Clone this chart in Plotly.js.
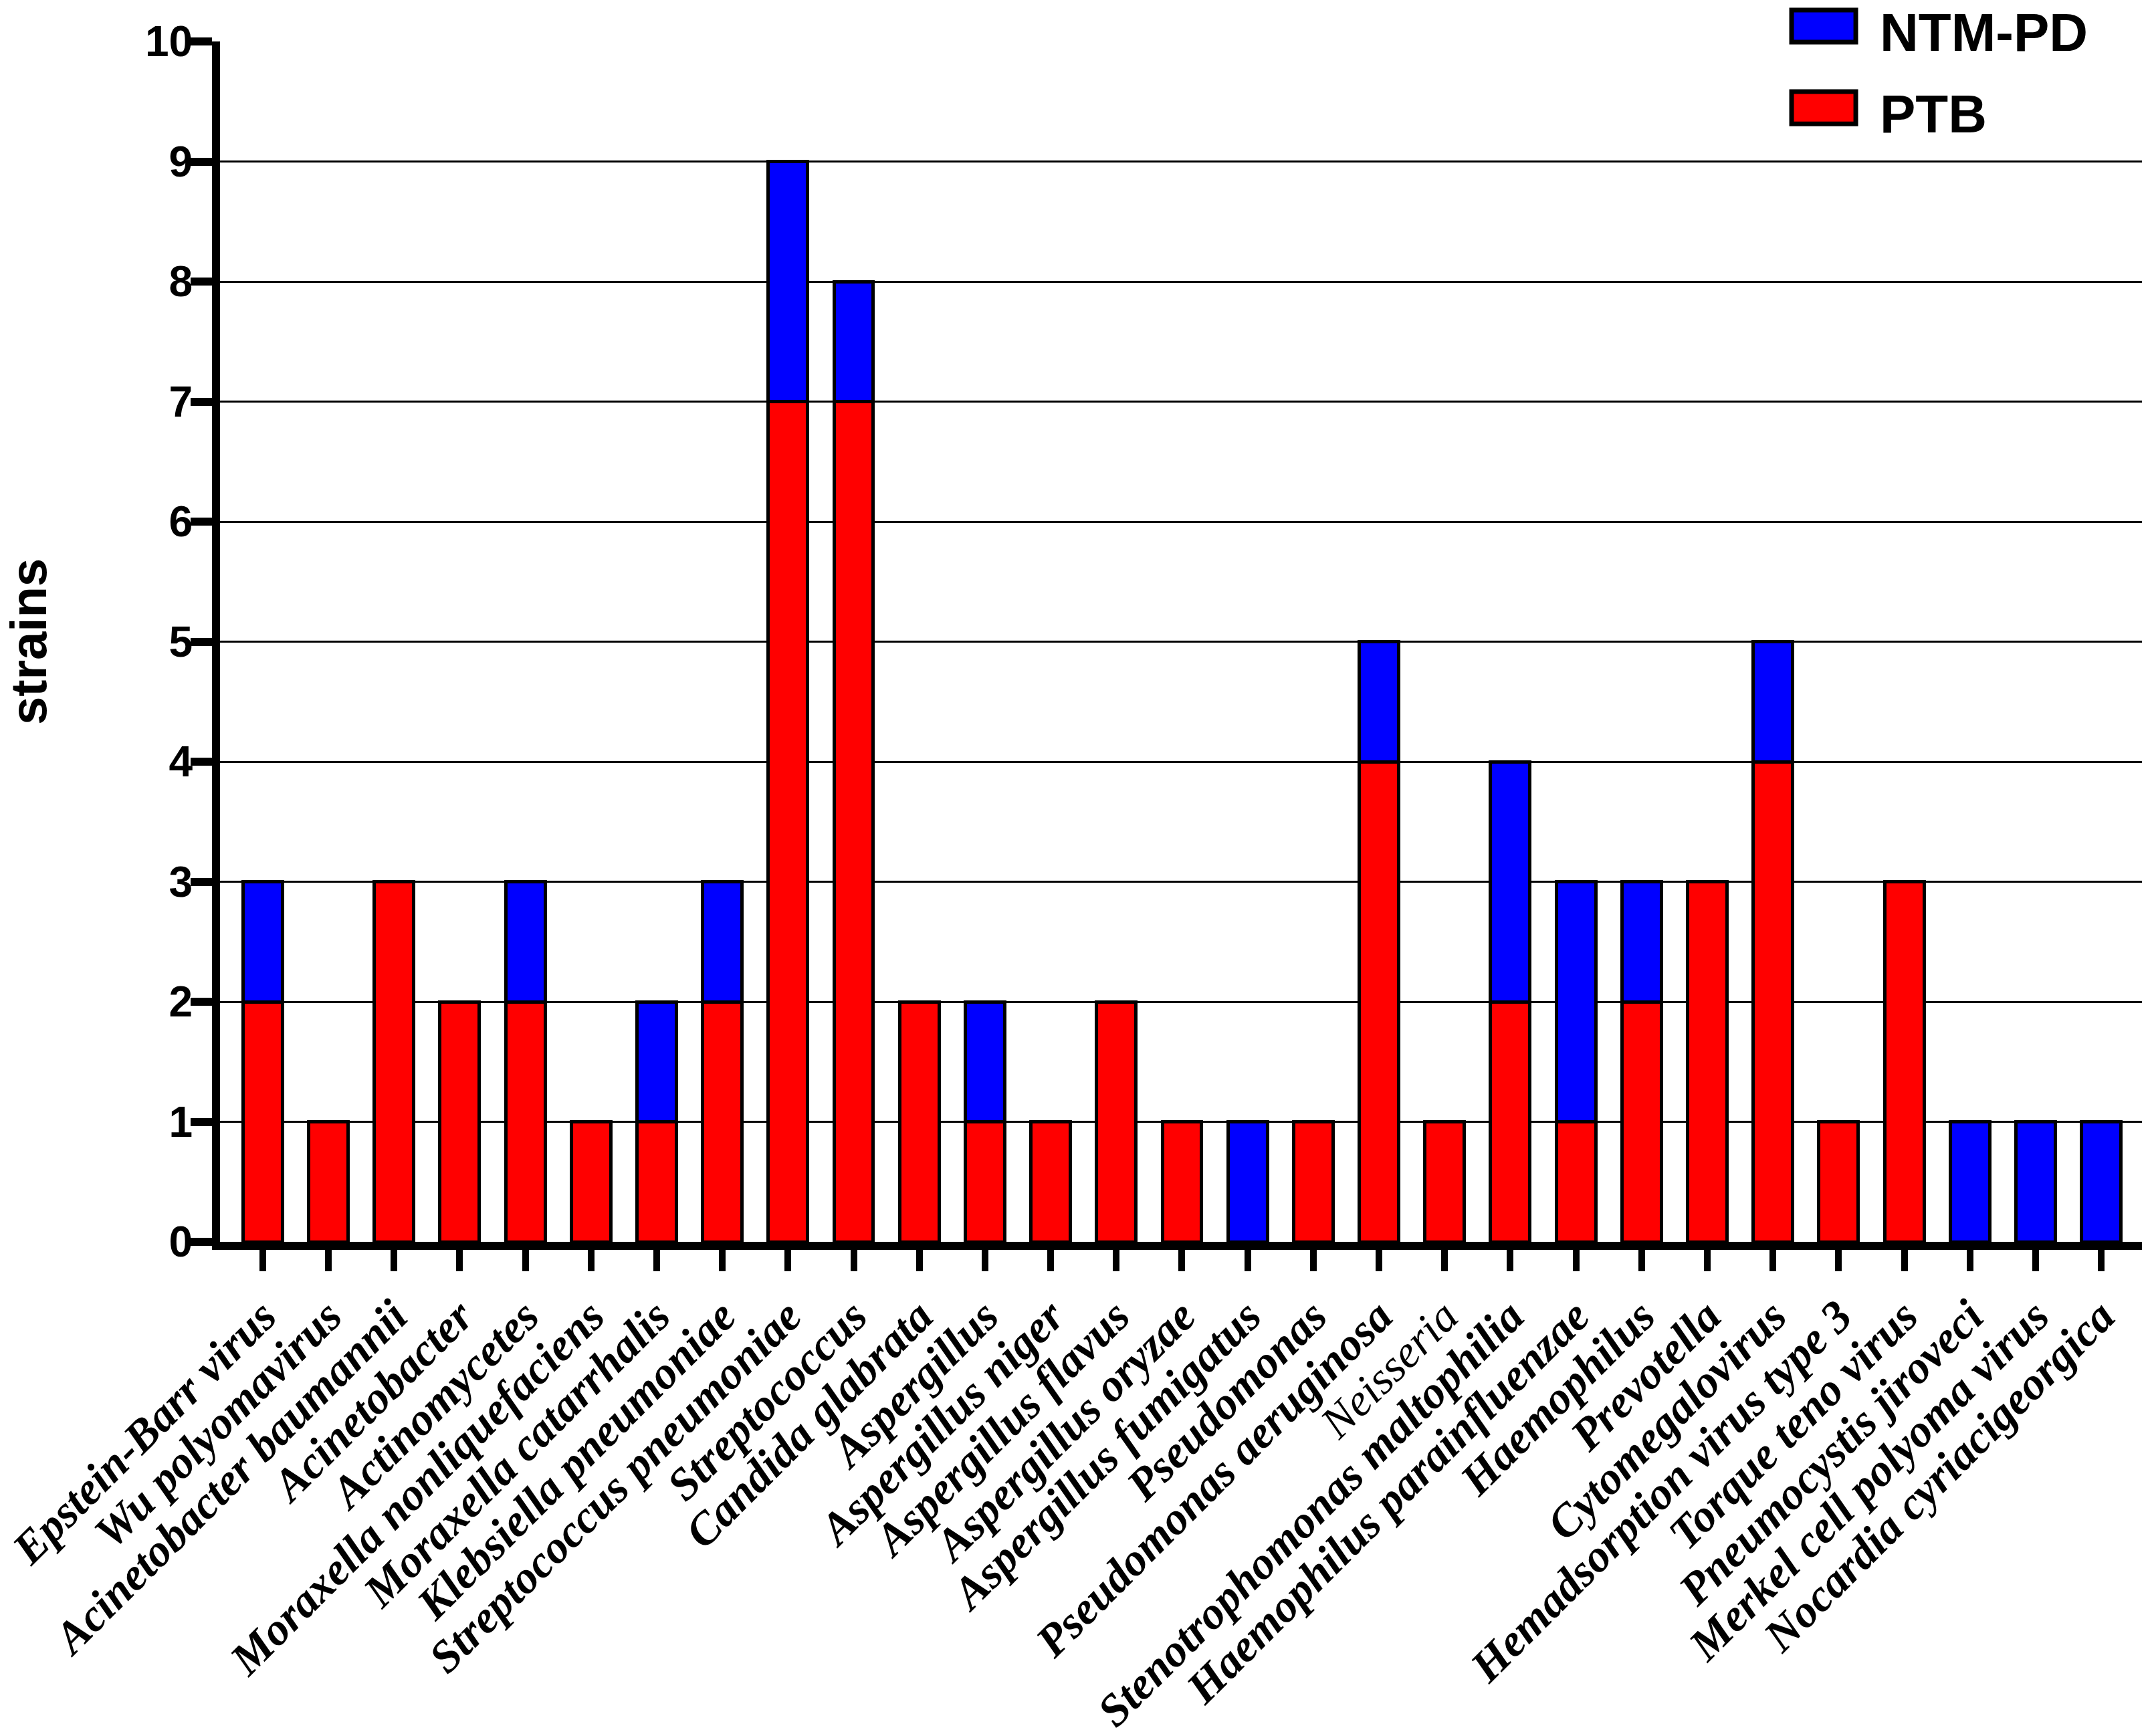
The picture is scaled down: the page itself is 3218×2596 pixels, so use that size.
<!DOCTYPE html>
<html>
<head>
<meta charset="utf-8">
<script src="https://cdn.plot.ly/plotly-3.0.1.min.js"></script>
<style>
  html, body {margin: 0; padding: 0; background: #fff;}
</style>
</head>
<body>
<div id="chart"></div>
<script>
/////Data/////
const CATEGORIES = [
  'Epstein-Barr virus', 'Wu polyomavirus', 'Acinetobacter baumannii',
  'Acinetobacter', 'Actinomycetes', 'Moraxella nonliquefaciens',
  'Moraxella catarrhalis', 'Klebsiella pneumoniae', 'Streptococcus pneumoniae',
  'Streptococcus', 'Candida glabrata', 'Aspergillus', 'Aspergillus niger',
  'Aspergillus flavus', 'Aspergillus oryzae', 'Aspergillus fumigatus',
  'Pseudomonas', 'Pseudomonas aeruginosa', 'Neisseria',
  'Stenotrophomonas maltophilia', 'Haemophilus parainfluenzae', 'Haemophilus',
  'Prevotella', 'Cytomegalovirus', 'Hemadsorption virus type 3',
  'Torque teno virus', 'Pneumocystis jiroveci', 'Merkel cell polyoma virus',
  'Nocardia cyriacigeorgica'
];
const PTB = [2, 1, 3, 2, 2, 1, 1, 2, 7, 7, 2, 1, 1, 2, 1, 0, 1, 4, 1, 2, 1, 2, 3, 4, 1, 3, 0, 0, 0];
const NTM_PD = [1, 0, 0, 0, 1, 0, 1, 1, 2, 1, 0, 1, 0, 0, 0, 1, 0, 1, 0, 2, 2, 1, 0, 1, 0, 0, 1, 1, 1];
// label drawn in regular weight in the source figure
const NOT_BOLD = ['Neisseria'];
const Y_TICKS = [0, 1, 2, 3, 4, 5, 6, 7, 8, 9, 10];
const GRID_TICKS = [1, 2, 3, 4, 5, 6, 7, 8, 9];
const LEGEND_NAMES = ['NTM-PD', 'PTB'];
const COLORS = {'NTM-PD': '#0000ff', 'PTB': '#ff0000'};

/////Plot/////
const SANS = '"Liberation Sans", Arial, sans-serif';
const SERIF = '"Liberation Serif", "Times New Roman", serif';

let tickText = CATEGORIES.map((c) => {
  return NOT_BOLD.includes(c) ? c : '<b>' + c + '</b>';
});

let traces = [
  {
    type: 'bar', name: 'PTB', x: CATEGORIES, y: PTB,
    marker: {color: COLORS['PTB'], line: {color: '#000', width: 5}},
  },
  {
    type: 'bar', name: 'NTM-PD', x: CATEGORIES, y: NTM_PD,
    marker: {color: COLORS['NTM-PD'], line: {color: '#000', width: 5}},
  },
];

// hand made legend (plotly's bar swatches are too small)
let shapes = [];
let annotations = [];
const legX0 = 0.8177, legX1 = 0.8511, legTextX = 0.863;
const legBoxY = [1.0128, 0.9448];
const legTextY = [1.0075, 0.9395];
const legH = 0.0134;
LEGEND_NAMES.forEach((name, i) => {
  shapes.push({
    type: 'rect', xref: 'paper', yref: 'paper',
    x0: legX0, x1: legX1, y0: legBoxY[i] - legH, y1: legBoxY[i] + legH,
    fillcolor: COLORS[name], line: {color: '#000', width: 7},
  });
  annotations.push({
    xref: 'paper', yref: 'paper', x: legTextX, y: legTextY[i],
    xanchor: 'left', yanchor: 'middle', showarrow: false, text: name,
    font: {family: SANS, size: 80, color: '#000', weight: 'bold'},
  });
});

const LAYOUT = {
  width: 3218,
  height: 2596,
  paper_bgcolor: '#fff',
  plot_bgcolor: '#fff',
  margin: {l: 329, r: 15, t: 62, b: 739},
  barmode: 'stack',
  bargap: 0.4,
  showlegend: false,
  xaxis: {
    type: 'category',
    range: [-0.65, 28.62],
    tickmode: 'array',
    tickvals: CATEGORIES,
    ticktext: tickText,
    tickangle: -45,
    tickfont: {family: SERIF, size: 68, color: '#000', style: 'italic'},
    ticks: 'outside', ticklen: 32, tickwidth: 10, tickcolor: '#000',
    showline: true, linecolor: '#000', linewidth: 12,
    showgrid: false, zeroline: false,
  },
  yaxis: {
    range: [0, 10],
    tickmode: 'array',
    tickvals: Y_TICKS,
    tickfont: {family: SANS, size: 64, color: '#000', weight: 'bold'},
    ticklabelstandoff: -16,
    ticks: 'outside', ticklen: 32, tickwidth: 12, tickcolor: '#000',
    showline: true, linecolor: '#000', linewidth: 12,
    showgrid: false, zeroline: false,
    title: {
      text: 'strains', standoff: 178,
      font: {family: SANS, size: 76, color: '#000', weight: 'bold'},
    },
  },
  // second axis only for the grid, so no line sits on top at 10
  yaxis2: {
    overlaying: 'y', range: [0, 10],
    tickmode: 'array', tickvals: GRID_TICKS,
    showticklabels: false, ticks: '',
    showgrid: true, gridcolor: '#000', gridwidth: 3,
    zeroline: false, showline: false,
  },
  shapes: shapes,
  annotations: annotations,
};

// invisible trace so that yaxis2 exists
traces.push({
  type: 'scatter', x: [CATEGORIES[0]], y: [0], yaxis: 'y2',
  mode: 'markers', marker: {opacity: 0}, hoverinfo: 'skip', showlegend: false,
});

Plotly.newPlot('chart', traces, LAYOUT, {staticPlot: true});
</script>
</body>
</html>
